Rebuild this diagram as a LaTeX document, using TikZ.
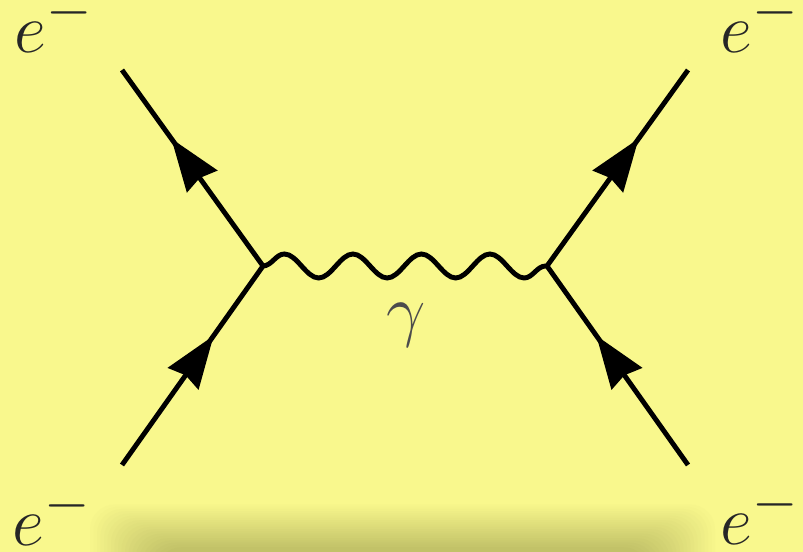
\documentclass[tikz,border=0pt]{standalone}
\usetikzlibrary{arrows.meta,decorations.markings,decorations.pathmorphing}
\definecolor{paper}{RGB}{249,248,141}
\definecolor{shade}{RGB}{194,194,104}
\tikzset{
	fermion/.style={line width=2.8pt,postaction={decorate},
		decoration={markings,mark=at position 0.65 with {\arrow{Stealth[length=1.05cm,width=0.74cm,inset=0.08cm]}}}},
	photon/.style={line width=2.8pt,decorate,
		decoration={snake,segment length=1.37cm,amplitude=0.24cm}},
	lbl/.style={text=black!85,font=\Huge,scale=1.6}
}
\begin{document}
\begin{tikzpicture}
	\fill[paper] (0,0) rectangle (16.06,11.04);
	\clip (0,0) rectangle (16.06,11.04);
	% soft shadow along the bottom
	\foreach \i [evaluate=\i as \pct using 5*(\i+1)] in {0,...,19}
		\fill[shade!\pct!paper,rounded corners=0.5cm] (1.8+0.07*\i,0.95-0.045*\i) rectangle (14.3-0.07*\i,-1);
	\coordinate (vl) at (5.26,5.72);
	\coordinate (vr) at (10.94,5.72);
	\coordinate (tl) at (2.44,9.64);
	\coordinate (bl) at (2.44,1.74);
	\coordinate (tr) at (13.76,9.64);
	\coordinate (br) at (13.76,1.74);
	\draw[fermion] (bl) -- (vl);
	\draw[fermion] (vl) -- (tl);
	\draw[fermion] (br) -- (vr);
	\draw[fermion] (vr) -- (tr);
	\draw[photon] (vl) -- (vr);
	\node[lbl,text=black!70,anchor=base] (gam) at (8.12,4.36) {$\gamma$};
	\node[lbl,anchor=base west,inner sep=0pt] (etl) at (0.28,9.98) {$e^-$};
	\node[lbl,anchor=base west,inner sep=0pt] (etr) at (14.40,9.98) {$e^-$};
	\node[lbl,anchor=base west,inner sep=0pt] (ebl) at (0.24,0.12) {$e^-$};
	\node[lbl,anchor=base west,inner sep=0pt] (ebr) at (14.40,0.14) {$e^-$};
\end{tikzpicture}
\end{document}
